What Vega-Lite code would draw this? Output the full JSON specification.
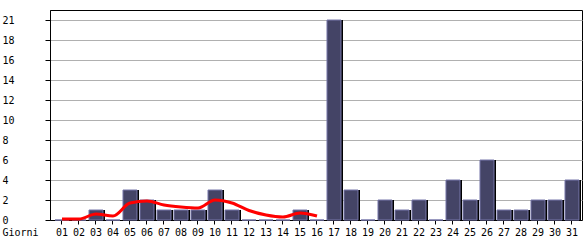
{
  "$schema": "https://vega.github.io/schema/vega-lite/v6.json",
  "width": 532,
  "height": 210,
  "autosize": "none",
  "padding": {"left": 50, "top": 10, "right": 3, "bottom": 20},
  "background": "white",
  "config": {
    "view": {"stroke": "black", "strokeWidth": 1},
    "font": "DejaVu Sans Mono",
    "axis": {"labelFont": "DejaVu Sans Mono", "titleFont": "DejaVu Sans Mono", "labelFontSize": 10, "titleFontSize": 10, "labelColor": "black", "titleColor": "black", "domainColor": "black", "tickColor": "black", "labelOverlap": false},
    "axisY": {"gridColor": "#b0b0b0", "gridOpacity": 1, "labelAlign": "left", "labelBaseline": "middle", "labelPadding": 43, "tickSize": 5, "labelOverlap": false}
  },
  "data": {
    "values": [
      {"day": "01", "n": 0, "avg": 0.1},
      {"day": "02", "n": 0, "avg": 0.1},
      {"day": "03", "n": 1, "avg": 0.6},
      {"day": "04", "n": 0, "avg": 0.4},
      {"day": "05", "n": 3, "avg": 1.7},
      {"day": "06", "n": 2, "avg": 1.9},
      {"day": "07", "n": 1, "avg": 1.5},
      {"day": "08", "n": 1, "avg": 1.3},
      {"day": "09", "n": 1, "avg": 1.2},
      {"day": "10", "n": 3, "avg": 2.0},
      {"day": "11", "n": 1, "avg": 1.7},
      {"day": "12", "n": 0, "avg": 0.95},
      {"day": "13", "n": 0, "avg": 0.5},
      {"day": "14", "n": 0, "avg": 0.3},
      {"day": "15", "n": 1, "avg": 0.7},
      {"day": "16", "n": 0, "avg": 0.4},
      {"day": "17", "n": 20},
      {"day": "18", "n": 3},
      {"day": "19", "n": 0},
      {"day": "20", "n": 2},
      {"day": "21", "n": 1},
      {"day": "22", "n": 2},
      {"day": "23", "n": 0},
      {"day": "24", "n": 4},
      {"day": "25", "n": 2},
      {"day": "26", "n": 6},
      {"day": "27", "n": 1},
      {"day": "28", "n": 1},
      {"day": "29", "n": 2},
      {"day": "30", "n": 2},
      {"day": "31", "n": 4}
    ]
  },
  "encoding": {
    "x": {
      "field": "day",
      "type": "ordinal",
      "scale": {"paddingInner": 0.176, "paddingOuter": 0.235, "align": 0.625},
      "axis": {
        "title": "Giorni",
        "titleX": -48,
        "titleY": 15,
        "titleAlign": "left",
        "titleBaseline": "alphabetic",
        "titleFontWeight": "normal",
        "labelAngle": 0,
        "labelBaseline": "alphabetic",
        "tickSize": 4,
        "labelPadding": 11,
        "grid": false,
        "domain": true
      }
    },
    "y": {
      "field": "n",
      "type": "quantitative",
      "scale": {"domain": [0, 21], "nice": false},
      "axis": {
        "title": null,
        "values": [0, 2, 4, 6, 8, 10, 12, 14, 16, 18, 20],
        "labelExpr": "datum.value == 20 ? '21' : datum.label",
        "grid": true
      }
    }
  },
  "layer": [
    {
      "mark": {"type": "bar", "color": "black", "xOffset": 2}
    },
    {
      "mark": {"type": "bar", "fill": "#444466", "stroke": "#7777aa", "strokeWidth": 1}
    },
    {
      "mark": {"type": "line", "color": "#ff0000", "strokeWidth": 3, "interpolate": "monotone"},
      "encoding": {"y": {"field": "avg", "type": "quantitative"}}
    }
  ]
}
